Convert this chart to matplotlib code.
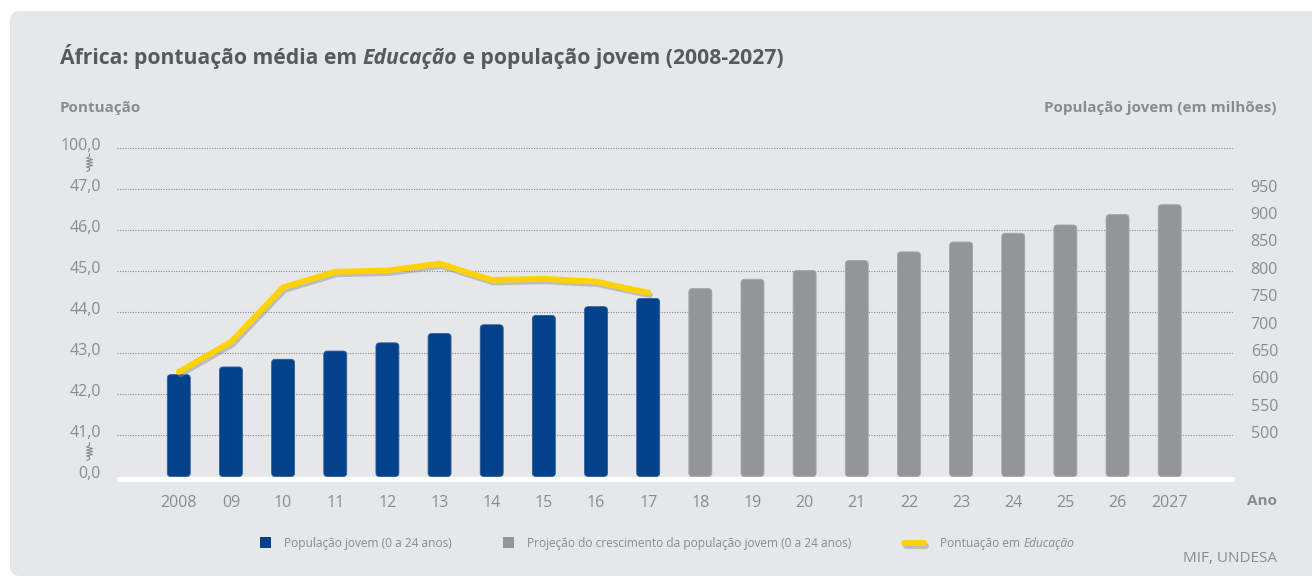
import numpy as np
import matplotlib
matplotlib.use("Agg")
import matplotlib.pyplot as plt
import matplotlib.patheffects as pe
import matplotlib.transforms as mtransforms
from matplotlib.patches import FancyBboxPatch, Rectangle
from matplotlib.lines import Line2D

# dados
anos = ["2008", "09", "10", "11", "12", "13", "14", "15", "16", "17",
        "18", "19", "20", "21", "22", "23", "24", "25", "26", "2027"]
pop_jovem = [605, 619, 633, 648, 663, 680, 696, 713, 729, 744]          # 2008-2017
pop_projecao = [762, 779, 795, 813, 829, 847, 863, 878, 897, 915]       # 2018-2027
pontuacao = [42.55, 43.28, 44.61, 44.99, 45.02, 45.19, 44.79, 44.82, 44.75, 44.48]

ticks_esq = [0, 41, 42, 43, 44, 45, 46, 47, 100]
labels_esq = ["0,0", "41,0", "42,0", "43,0", "44,0", "45,0", "46,0", "47,0", "100,0"]
ticks_dir = [500, 550, 600, 650, 700, 750, 800, 850, 900, 950]

AZUL = "#03428a"
CINZA_BARRA = "#939598"
AMARELO = "#ffd200"
FUNDO = "#e6e7e8"
TXT = "#8a8b8e"
TITULO = "#58595b"
FONTE = ["Open Sans", "DejaVu Sans"]

plt.rcParams["font.family"] = FONTE

W, H = 1312, 576
fig = plt.figure(figsize=(W / 100, H / 100), dpi=100, facecolor="white")

# painel cinza com canto arredondado
fig.patches.append(FancyBboxPatch((10, 0), W, H - 11, boxstyle="round,pad=0,rounding_size=10",
                                  transform=None, facecolor=FUNDO, edgecolor="none", zorder=-10))


# escala quebrada do eixo da pontuação
def fwd(v):
    v = np.asarray(v, dtype=float)
    return np.where(v <= 41, v / 41.0, np.where(v <= 47, v - 40.0, 7 + (v - 47) / 53.0))


def inv(p):
    p = np.asarray(p, dtype=float)
    return np.where(p <= 1, p * 41.0, np.where(p <= 7, p + 40.0, 47 + (p - 7) * 53.0))


def px(x, y):
    return x / W, 1 - y / H


ax = fig.add_axes([117 / W, 99.5 / H, 1117 / W, 328.2 / H])
ax.set_yscale("function", functions=(fwd, inv))
ax.set_ylim(0, 100)
ax.patch.set_visible(False)

x = np.arange(len(anos))
ax.set_xlim(-1.185, 20.233)

for v in ticks_esq[1:]:
    ax.axhline(v, color="#8c8c8c", lw=0.8, ls=(0, (1, 1.3)), zorder=0)
ax.plot([0, 1], [-0.0076, -0.0076], transform=ax.transAxes, color="white", lw=3.8,
        clip_on=False, zorder=0, solid_capstyle="butt")

ax.set_yticks(ticks_esq)
ax.set_yticklabels(labels_esq)
ax.tick_params(axis="y", length=0, pad=11.5, labelsize=11.5, labelcolor=TXT)
off = mtransforms.ScaledTranslation(0, 4 / 100, fig.dpi_scale_trans)
for lb in ax.get_yticklabels():
    lb.set_transform(lb.get_transform() + off)
ax.set_xticks(x)
ax.set_xticklabels(anos)
ax.tick_params(axis="x", length=0, pad=13.5, labelsize=11.5, labelcolor=TXT)
ax.yaxis.set_minor_locator(matplotlib.ticker.NullLocator())
for s in ax.spines.values():
    s.set_visible(False)

ax2 = ax.twinx()
ax2.set_ylim(419.2, 1017.9)
ax2.set_xlim(-1.185, 20.233)
base = 419.2
b1 = ax2.bar(x[:10], np.array(pop_jovem) - base, bottom=base, width=0.44, color=AZUL,
             edgecolor="#2f5d9a", linewidth=0.6, zorder=2)
b2 = ax2.bar(x[10:], np.array(pop_projecao) - base, bottom=base, width=0.44, color=CINZA_BARRA,
             edgecolor="#a4a6a8", linewidth=0.6, zorder=2)

# cantos arredondados nas barras
asp = (598.7 / 328.2) / (21.418 / 1117)
for barras in (b1, b2):
    for rect in barras:
        rect.set_visible(False)
        ax2.add_patch(FancyBboxPatch((rect.get_x(), rect.get_y()), rect.get_width(), rect.get_height(),
                                     boxstyle="round,pad=0,rounding_size=0.07", mutation_aspect=asp,
                                     facecolor=rect.get_facecolor(), edgecolor=rect.get_edgecolor(),
                                     linewidth=0.6, zorder=2))

ax2.plot(x[:10], pontuacao, transform=ax.transData, color=AMARELO, lw=4.2, zorder=3,
         solid_joinstyle="miter", solid_capstyle="round",
         path_effects=[pe.SimpleLineShadow(offset=(1.2, -1.8), shadow_color="#8a8a8a", alpha=0.45),
                       pe.Normal()])
ax2.set_ylim(419.2, 1017.9)
ax2.set_xlim(-1.185, 20.233)
ax2.set_yticks(ticks_dir)
ax2.tick_params(axis="y", length=0, pad=12, labelsize=11.5, labelcolor=TXT)
for s in ax2.spines.values():
    s.set_visible(False)

# marcas de quebra do eixo
for yc in (163, 452):
    xs = [89.5, 89.5, 86.5, 92.5, 86.5, 92.5, 86.5, 92.5, 86.5, 89.5, 89.5, 87]
    ys = [yc - 9, yc - 6.5, yc - 5, yc - 3.5, yc - 2, yc - 0.5, yc + 1, yc + 2.5, yc + 4, yc + 5,
          yc + 7, yc + 8.5]
    fig.add_artist(Line2D([a / W for a in xs], [1 - b / H for b in ys], transform=fig.transFigure,
                          color=TXT, lw=0.8))

# textos
r = fig.canvas.get_renderer()


def texto_partes(x0, y0, partes, size, color):
    xx = x0
    for s, weight, style in partes:
        t = fig.text(xx / W, 1 - y0 / H, s, fontsize=size, fontweight=weight, fontstyle=style,
                     color=color, va="baseline", ha="left")
        xx += t.get_window_extent(renderer=r).width


texto_partes(60, 64, [("África: pontuação média em ", "bold", "normal"),
                      ("Educação", "bold", "italic"),
                      (" e população jovem (2008-2027)", "bold", "normal")], 15.2, TITULO)

fig.text(60 / W, 1 - 108 / H, "Pontuação", fontsize=11, fontweight="bold", color=TXT, va="center")
fig.text(1277 / W, 1 - 108 / H, "População jovem (em milhões)", fontsize=11, fontweight="bold",
         color=TXT, va="center", ha="right")
fig.text(1262 / W, 1 - 501 / H, "Ano", fontsize=11, fontweight="bold", color=TXT,
         va="center", ha="center")
fig.text(1277 / W, 1 - 558 / H, "MIF, UNDESA", fontsize=11, color=TXT, va="center", ha="right")

# legenda
fig.patches.append(Rectangle(px(260, 548), 11 / W, 11 / H, transform=fig.transFigure,
                             facecolor=AZUL, edgecolor="none"))
fig.text(284 / W, 1 - 543 / H, "População jovem (0 a 24 anos)", fontsize=8.6, color=TXT, va="center")
fig.patches.append(Rectangle(px(503, 548), 11 / W, 11 / H, transform=fig.transFigure,
                             facecolor=CINZA_BARRA, edgecolor="none"))
fig.text(527 / W, 1 - 543 / H, "Projeção do crescimento da população jovem (0 a 24 anos)",
         fontsize=8.6, color=TXT, va="center")
fig.add_artist(Line2D([904 / W, 924 / W], [1 - 543 / H, 1 - 543 / H], transform=fig.transFigure,
                      color=AMARELO, lw=4.2, solid_capstyle="round",
                      path_effects=[pe.SimpleLineShadow(offset=(1.2, -1.8), shadow_color="#8a8a8a", alpha=0.45),
                                    pe.Normal()]))
texto_partes(940, 547, [("Pontuação em ", "normal", "normal"), ("Educação", "normal", "italic")],
             8.6, TXT)

fig.savefig("out.png", dpi=100, facecolor="white")
